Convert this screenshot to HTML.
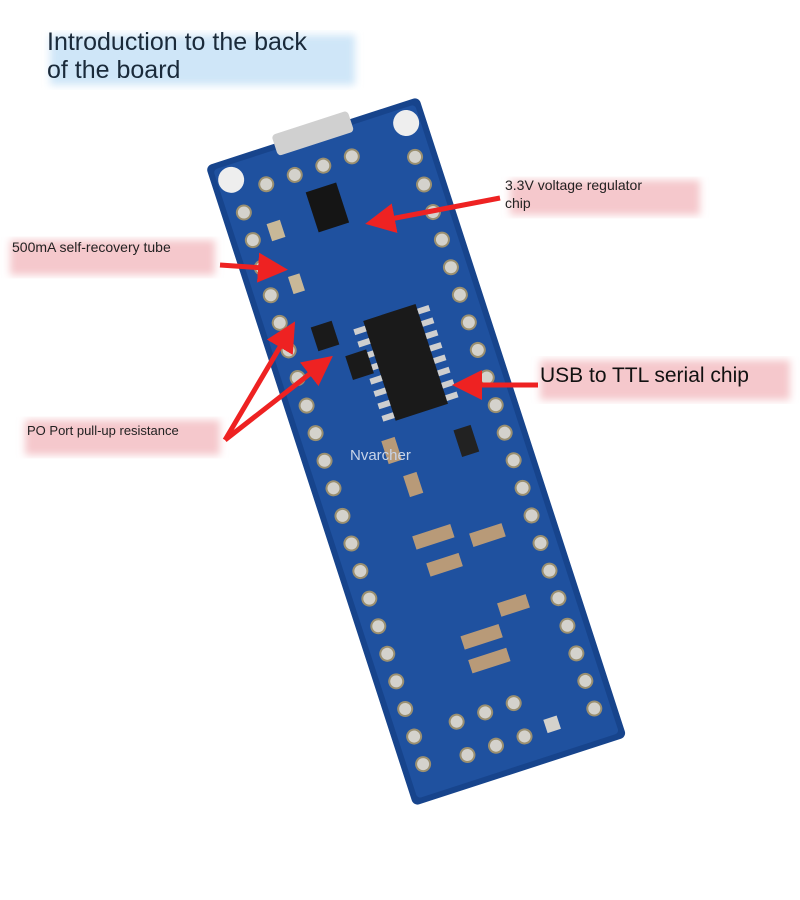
<!DOCTYPE html>
<html><head><meta charset="utf-8"><style>
body{margin:0;background:#fff;}
svg{display:block}
text{font-family:"Liberation Sans",sans-serif}
</style></head><body>
<svg width="800" height="900" viewBox="0 0 800 900" xmlns="http://www.w3.org/2000/svg">
<defs>
<filter id="bl"><feGaussianBlur stdDeviation="4"/></filter>
<marker id="ah" markerWidth="6" markerHeight="6" refX="4" refY="3" orient="auto" markerUnits="strokeWidth"><path d="M0,0 L6,3 L0,6 z" fill="#ee2222"/></marker>
</defs>
<rect width="800" height="900" fill="#fff"/>
<rect x="50" y="35" width="305" height="50" fill="#cfe6f8" filter="url(#bl)"/>
<text x="47" y="50" font-size="25" fill="#1a2a3a">Introduction to the back</text>
<text x="47" y="78" font-size="25" fill="#1a2a3a">of the board</text>
<rect x="510" y="180" width="190" height="35" fill="#f5c8cc" filter="url(#bl)"/>
<rect x="10" y="240" width="205" height="35" fill="#f5c8cc" filter="url(#bl)"/>
<rect x="540" y="360" width="250" height="40" fill="#f5c8cc" filter="url(#bl)"/>
<rect x="25" y="420" width="195" height="35" fill="#f5c8cc" filter="url(#bl)"/>

<g transform="translate(416,451) rotate(-18)">
<rect x="-112" y="-336" width="224" height="673" rx="6" fill="#17448c"/>
<rect x="-106" y="-330" width="212" height="661" rx="4" fill="#1f519f"/>
<rect x="-40" y="-345" width="80" height="22" rx="4" fill="#d0d0d0"/>
<circle cx="-92" cy="-315" r="13" fill="#eee"/>
<circle cx="92" cy="-315" r="13" fill="#eee"/>
<g fill="#d4d2cc" stroke="#9a8f70" stroke-width="2">
<circle cx="-90" cy="-280" r="7"/><circle cx="-90" cy="-251" r="7"/><circle cx="-90" cy="-222" r="7"/><circle cx="-90" cy="-193" r="7"/><circle cx="-90" cy="-164" r="7"/><circle cx="-90" cy="-135" r="7"/><circle cx="-90" cy="-106" r="7"/><circle cx="-90" cy="-77" r="7"/><circle cx="-90" cy="-48" r="7"/><circle cx="-90" cy="-19" r="7"/><circle cx="-90" cy="10" r="7"/><circle cx="-90" cy="39" r="7"/><circle cx="-90" cy="68" r="7"/><circle cx="-90" cy="97" r="7"/><circle cx="-90" cy="126" r="7"/><circle cx="-90" cy="155" r="7"/><circle cx="-90" cy="184" r="7"/><circle cx="-90" cy="213" r="7"/><circle cx="-90" cy="242" r="7"/><circle cx="-90" cy="271" r="7"/><circle cx="-90" cy="300" r="7"/>
<circle cx="90" cy="-280" r="7"/><circle cx="90" cy="-251" r="7"/><circle cx="90" cy="-222" r="7"/><circle cx="90" cy="-193" r="7"/><circle cx="90" cy="-164" r="7"/><circle cx="90" cy="-135" r="7"/><circle cx="90" cy="-106" r="7"/><circle cx="90" cy="-77" r="7"/><circle cx="90" cy="-48" r="7"/><circle cx="90" cy="-19" r="7"/><circle cx="90" cy="10" r="7"/><circle cx="90" cy="39" r="7"/><circle cx="90" cy="68" r="7"/><circle cx="90" cy="97" r="7"/><circle cx="90" cy="126" r="7"/><circle cx="90" cy="155" r="7"/><circle cx="90" cy="184" r="7"/><circle cx="90" cy="213" r="7"/><circle cx="90" cy="242" r="7"/><circle cx="90" cy="271" r="7"/><circle cx="90" cy="300" r="7"/>
<circle cx="-60" cy="-300" r="7"/><circle cx="-30" cy="-300" r="7"/><circle cx="0" cy="-300" r="7"/><circle cx="30" cy="-300" r="7"/>
<circle cx="-45" cy="305" r="7"/><circle cx="-15" cy="305" r="7"/><circle cx="15" cy="305" r="7"/>
<circle cx="-45" cy="270" r="7"/><circle cx="-15" cy="270" r="7"/><circle cx="15" cy="270" r="7"/>
</g>
<rect x="38" y="295" width="14" height="14" fill="#d4d2cc"/>
<rect x="-25" y="-280" width="32" height="42" fill="#151515"/>
<rect x="-10" y="-140" width="55" height="105" fill="#1a1a1a"/>
<g fill="#cfcfcf">
<rect x="-22" y="-135" width="12" height="6"/><rect x="-22" y="-122" width="12" height="6"/><rect x="-22" y="-109" width="12" height="6"/><rect x="-22" y="-96" width="12" height="6"/><rect x="-22" y="-83" width="12" height="6"/><rect x="-22" y="-70" width="12" height="6"/><rect x="-22" y="-57" width="12" height="6"/><rect x="-22" y="-44" width="12" height="6"/>
<rect x="45" y="-135" width="12" height="6"/><rect x="45" y="-122" width="12" height="6"/><rect x="45" y="-109" width="12" height="6"/><rect x="45" y="-96" width="12" height="6"/><rect x="45" y="-83" width="12" height="6"/><rect x="45" y="-70" width="12" height="6"/><rect x="45" y="-57" width="12" height="6"/><rect x="45" y="-44" width="12" height="6"/>
</g>
<rect x="-62" y="-150" width="22" height="25" fill="#1a1a1a"/>
<rect x="-38" y="-112" width="22" height="25" fill="#1a1a1a"/>
<rect x="-68" y="-205" width="12" height="18" fill="#c8b898"/>
<rect x="-72" y="-262" width="14" height="18" fill="#c8b898"/>
<g fill="#b89a78">
<rect x="-30" y="-20" width="14" height="24"/><rect x="-20" y="20" width="14" height="22"/>
<rect x="-30" y="80" width="40" height="14"/><rect x="-25" y="110" width="34" height="14"/>
<rect x="25" y="95" width="34" height="14"/><rect x="-15" y="190" width="40" height="14"/>
<rect x="-15" y="215" width="40" height="14"/><rect x="30" y="170" width="30" height="14"/>
</g>
<rect x="42" y="-8" width="18" height="28" fill="#222"/>
</g>
<text x="350" y="460" font-size="15" fill="#c8d4e8" font-family="Liberation Serif">Nvarcher</text>

<text x="505" y="190" font-size="14" fill="#222">3.3V voltage regulator</text>
<text x="505" y="208" font-size="14" fill="#222">chip</text>
<text x="12" y="252" font-size="14" fill="#222">500mA self-recovery tube</text>
<text x="540" y="382" font-size="21" fill="#111">USB to TTL serial chip</text>
<text x="27" y="435" font-size="13" fill="#222">PO Port pull-up resistance</text>

<g stroke="#ee2222" stroke-width="5" fill="none" marker-end="url(#ah)">
<line x1="500" y1="198" x2="375" y2="222"/>
<line x1="220" y1="265" x2="278" y2="269"/>
<line x1="538" y1="385" x2="462" y2="385"/>
<line x1="225" y1="440" x2="290" y2="330"/>
<line x1="225" y1="440" x2="325" y2="362"/>
</g>
</svg>
</body></html>
